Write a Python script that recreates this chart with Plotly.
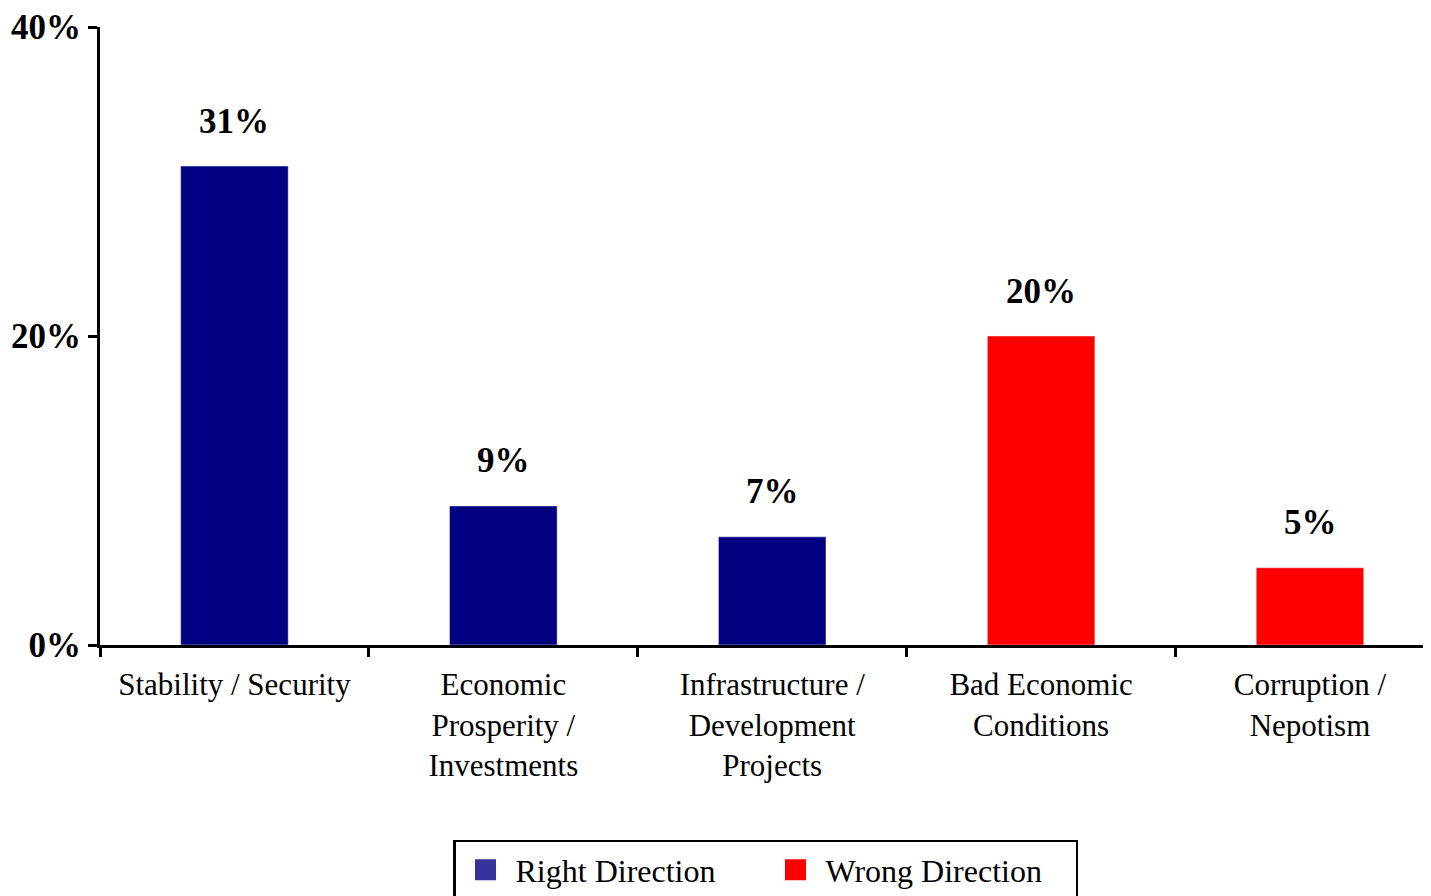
import plotly.graph_objects as go

categories = ["Stability / Security", "Economic<br>Prosperity /<br>Investments",
              "Infrastructure /<br>Development<br>Projects", "Bad Economic<br>Conditions",
              "Corruption /<br>Nepotism"]
right_values = [31, 9, 7, None, None]
wrong_values = [None, None, None, 20, 5]
label_texts = ["31%", "9%", "7%", "20%", "5%"]
label_values = [31, 9, 7, 20, 5]
y_ticks = [0, 20, 40]
y_tick_text = ["0%", "20%", "40%"]

SERIF = "Liberation Serif"
NAVY = "#000080"
RED = "#FF0000"
LEG_NAVY = "#333399"

fig = go.Figure()
fig.add_trace(go.Bar(x=categories, y=right_values, marker_color=NAVY, width=0.4,
                     showlegend=False, name="Right Direction"))
fig.add_trace(go.Bar(x=categories, y=wrong_values, marker_color=RED, width=0.4,
                     showlegend=False, name="Wrong Direction"))
# legend proxies
fig.add_trace(go.Scatter(x=[None], y=[None], mode="markers", name="Right Direction",
                         marker=dict(symbol="square", size=30, color=LEG_NAVY,
                                     line=dict(color=LEG_NAVY, width=6))))
fig.add_trace(go.Scatter(x=[None], y=[None], mode="markers", name="Wrong Direction",
                         marker=dict(symbol="square", size=30, color=RED,
                                     line=dict(color=RED, width=6))))

for c, v, t in zip(categories, label_values, label_texts):
    fig.add_annotation(x=c, y=v, text="<b>%s</b>" % t, showarrow=False, yshift=45,
                       font=dict(family=SERIF, size=35, color="black"))

# page body has an 8px default margin, so the figure is offset by 8px
fig.update_layout(
    width=1423, height=888,
    margin=dict(l=92, r=0, t=19, b=251, autoexpand=False),
    paper_bgcolor="white", plot_bgcolor="white",
    barmode="overlay",
    font=dict(family=SERIF, color="black"),
    legend=dict(orientation="h", x=0.5, xanchor="center", y=-0.3155, yanchor="top",
                bordercolor="black", borderwidth=2.5, font=dict(size=32, family=SERIF),
                itemsizing="trace", itemwidth=50, entrywidth=245, entrywidthmode="pixels"),
    xaxis=dict(type="category", range=[-0.5, 4.45], showline=True, linecolor="black",
               linewidth=3, ticks="outside", tickson="boundaries", ticklen=9, tickwidth=2.5,
               tickcolor="black", showgrid=False, zeroline=False, automargin=False,
               ticklabelstandoff=10,
               tickfont=dict(family=SERIF, size=31, color="black")),
    yaxis=dict(range=[0, 40], tickvals=y_ticks, ticktext=["<b>%s</b>" % s for s in y_tick_text],
               showline=True, linecolor="black", linewidth=3, ticks="outside", ticklen=9,
               tickwidth=2.5, tickcolor="black", showgrid=False, zeroline=False,
               automargin=False,
               tickfont=dict(family=SERIF, size=35, color="black")),
)

fig.write_html("out.html")
